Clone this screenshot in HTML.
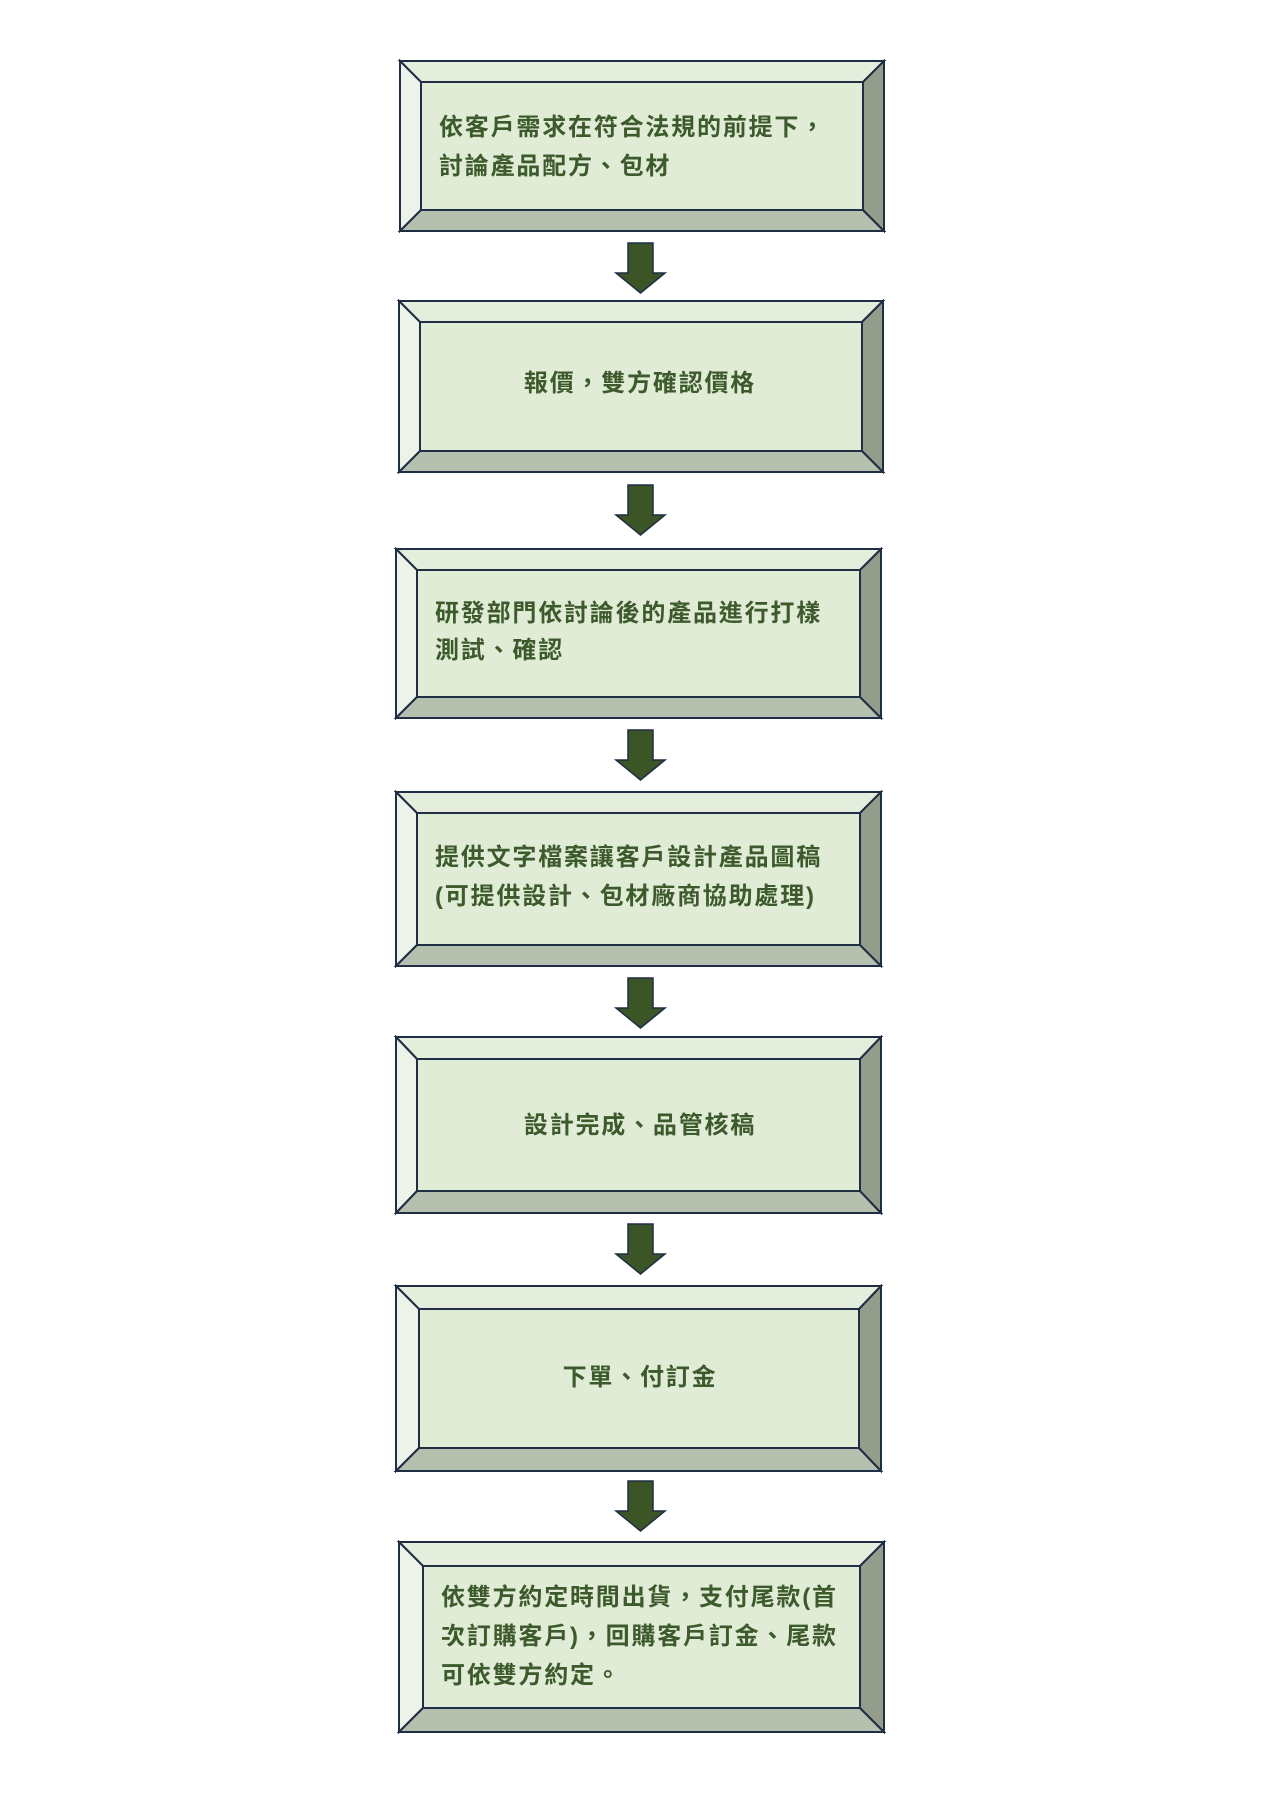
<!DOCTYPE html>
<html><head><meta charset="utf-8"><style>
html,body{margin:0;padding:0;background:#fff;}
svg{display:block;}
text{font-family:"Liberation Sans","Noto Sans CJK TC",sans-serif;font-size:24px;font-weight:bold;fill:#3d5a2c;letter-spacing:1.8px;}
</style></head><body>
<svg width="1280" height="1810" viewBox="0 0 1280 1810" xmlns="http://www.w3.org/2000/svg">
<defs>
<g id="arrow"><polygon points="628,0 653,0 653,30 665,30 640.5,50 616,30 628,30" fill="#3b5526" stroke="#1f2d45" stroke-width="1.5"/></g>
</defs>
<g stroke="#1f2d45" stroke-width="2" stroke-linejoin="miter">
<g>
<polygon points="400,61 884,61 863,82 421,82" fill="#e5eedd"/>
<polygon points="400,61 421,82 421,210 400,231" fill="#edf3e8"/>
<polygon points="400,231 421,210 863,210 884,231" fill="#b6c0ae"/>
<polygon points="884,61 884,231 863,210 863,82" fill="#949d8c"/>
<rect x="421" y="82" width="442" height="128" fill="#e1ecd7"/>
</g>
<g>
<polygon points="399,301 883,301 862,322 420,322" fill="#e5eedd"/>
<polygon points="399,301 420,322 420,451 399,472" fill="#edf3e8"/>
<polygon points="399,472 420,451 862,451 883,472" fill="#b6c0ae"/>
<polygon points="883,301 883,472 862,451 862,322" fill="#949d8c"/>
<rect x="420" y="322" width="442" height="129" fill="#e1ecd7"/>
</g>
<g>
<polygon points="396,549 881,549 860,570 417,570" fill="#e5eedd"/>
<polygon points="396,549 417,570 417,697 396,718" fill="#edf3e8"/>
<polygon points="396,718 417,697 860,697 881,718" fill="#b6c0ae"/>
<polygon points="881,549 881,718 860,697 860,570" fill="#949d8c"/>
<rect x="417" y="570" width="443" height="127" fill="#e1ecd7"/>
</g>
<g>
<polygon points="396,792 881,792 860,813 417,813" fill="#e5eedd"/>
<polygon points="396,792 417,813 417,945 396,966" fill="#edf3e8"/>
<polygon points="396,966 417,945 860,945 881,966" fill="#b6c0ae"/>
<polygon points="881,792 881,966 860,945 860,813" fill="#949d8c"/>
<rect x="417" y="813" width="443" height="132" fill="#e1ecd7"/>
</g>
<g>
<polygon points="396,1037 881,1037 860,1059 417,1059" fill="#e5eedd"/>
<polygon points="396,1037 417,1059 417,1191 396,1213" fill="#edf3e8"/>
<polygon points="396,1213 417,1191 860,1191 881,1213" fill="#b6c0ae"/>
<polygon points="881,1037 881,1213 860,1191 860,1059" fill="#949d8c"/>
<rect x="417" y="1059" width="443" height="132" fill="#e1ecd7"/>
</g>
<g>
<polygon points="396,1286 881,1286 859,1309 419,1309" fill="#e5eedd"/>
<polygon points="396,1286 419,1309 419,1448 396,1471" fill="#edf3e8"/>
<polygon points="396,1471 419,1448 859,1448 881,1471" fill="#b6c0ae"/>
<polygon points="881,1286 881,1471 859,1448 859,1309" fill="#949d8c"/>
<rect x="419" y="1309" width="440" height="139" fill="#e1ecd7"/>
</g>
<g>
<polygon points="399,1542 884,1542 860,1566 423,1566" fill="#e5eedd"/>
<polygon points="399,1542 423,1566 423,1708 399,1732" fill="#edf3e8"/>
<polygon points="399,1732 423,1708 860,1708 884,1732" fill="#b6c0ae"/>
<polygon points="884,1542 884,1732 860,1708 860,1566" fill="#949d8c"/>
<rect x="423" y="1566" width="437" height="142" fill="#e1ecd7"/>
</g>
</g>
<use href="#arrow" y="243"/>
<use href="#arrow" y="485"/>
<use href="#arrow" y="730"/>
<use href="#arrow" y="978"/>
<use href="#arrow" y="1224"/>
<use href="#arrow" y="1481"/>

<text x="439" y="135">依客戶需求在符合法規的前提下，</text>
<text x="439" y="174">討論產品配方、包材</text>
<text x="640" y="391" text-anchor="middle">報價，雙方確認價格</text>
<text x="435" y="621">研發部門依討論後的產品進行打樣</text>
<text x="435" y="658">測試、確認</text>
<text x="435" y="865">提供文字檔案讓客戶設計產品圖稿</text>
<text x="435" y="904">(可提供設計、包材廠商協助處理)</text>
<text x="640" y="1133" text-anchor="middle">設計完成、品管核稿</text>
<text x="640" y="1385" text-anchor="middle">下單、付訂金</text>
<text x="441" y="1605">依雙方約定時間出貨，支付尾款(首</text>
<text x="441" y="1644">次訂購客戶)，回購客戶訂金、尾款</text>
<text x="441" y="1683">可依雙方約定。</text>
</svg>
</body></html>
